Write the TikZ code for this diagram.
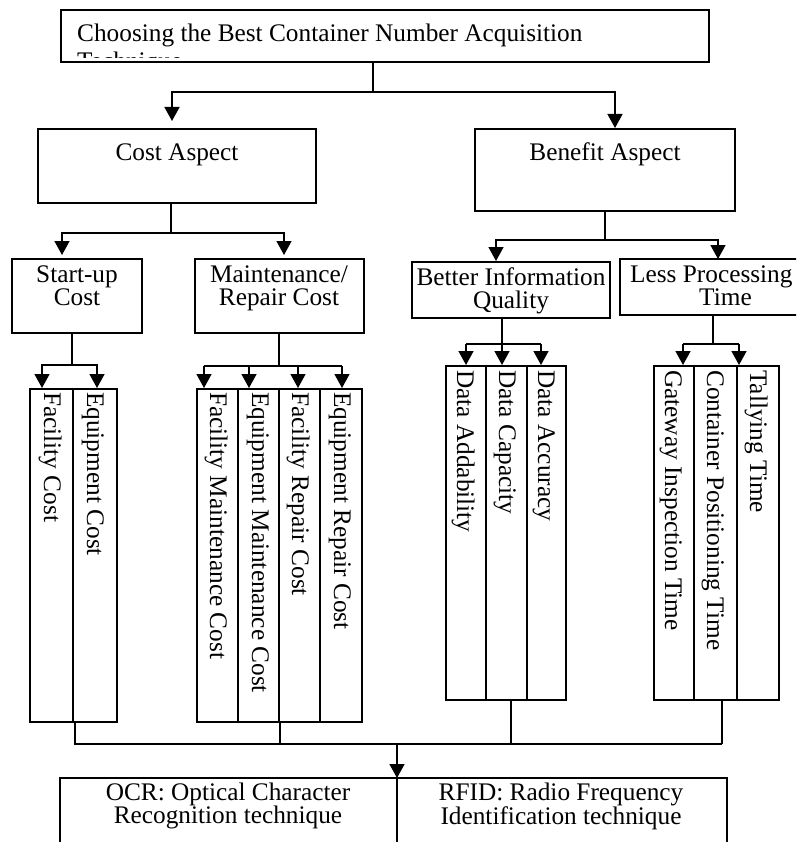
\documentclass[tikz,border=0pt]{standalone}
\usepackage{fontspec}
\setmainfont{Liberation Serif}
\usetikzlibrary{arrows.meta,calc}
\newcommand\twoline[2]{\begin{tabular}[t]{@{}c@{}}#1\\#2\end{tabular}}
\newcommand\boxat[5]{\node[box, minimum width={(#4)-(#2)}, minimum height={(#5)-(#3)}] (#1) at (#2,#3) {};}
\begin{document}
\begin{tikzpicture}[x=1pt,y=-1pt,
  box/.style={draw, line width=1.5pt, inner sep=0pt, outer sep=0pt, anchor=north west},
  txt/.style={inner sep=0pt, anchor=base, font=\fontsize{25.3}{21}\selectfont},
  vtxt/.style={inner sep=0pt, anchor=base west, rotate=-90, font=\fontsize{25.3}{21}\selectfont},
  conn/.style={line width=1.5pt},
  arr/.style={conn, -{Triangle[width=15pt,length=14pt]}}]
\useasboundingbox (0,0) rectangle (796,842);
\clip (0,0) rectangle (796,842);

% ---------- top ----------
\boxat{top}{61}{10}{709}{62}
\node[txt, anchor=base west] (title) at (77,42) {Choosing the Best Container Number Acquisition};
\begin{scope}
  \clip (62,11) rectangle (708,58);
  \node[txt, anchor=base west] (title2) at (77,70) {Technique};
\end{scope}

% ---------- level 2 ----------
\boxat{cost}{38}{129}{316}{203}
\node[txt] (costt) at (177,161) {Cost Aspect};
\boxat{ben}{475}{129}{735}{211}
\node[txt] (bent) at (605,161) {Benefit Aspect};

\coordinate (j0) at (373,92);
\coordinate (tcost) at (172,121);
\coordinate (tben) at (615,128);
\draw[conn] (top.south -| j0) -- (j0);
\draw[arr] (j0) -| (tcost);
\draw[arr] (j0) -| (tben);

% ---------- level 3 ----------
\boxat{start}{12}{259}{142}{333}
\node[txt] (startt) at (77,282) {\twoline{Start-up}{Cost}};
\boxat{maint}{195}{259}{364}{333}
\node[txt] (maintt) at (279,282) {\twoline{Maintenance/}{Repair Cost}};
\boxat{better}{412}{262}{610}{318}
\node[txt] (bettert) at (511,285) {\twoline{Better Information}{Quality}};
\boxat{less}{620}{259}{830}{315}
\node[txt, anchor=base west] (lesst) at (630,282) {\begin{tabular}[t]{@{}l@{}}Less Processing\\\hspace*{69pt}Time\end{tabular}};

\coordinate (j1) at (171,233);
\coordinate (tstart) at (62,255);
\coordinate (tmaint) at (284,255);
\draw[conn] (cost.south -| j1) -- (j1);
\draw[arr] (j1) -| (tstart);
\draw[arr] (j1) -| (tmaint);

\coordinate (j2) at (605,240);
\coordinate (tbetter) at (496,261);
\coordinate (tless) at (718,259);
\draw[conn] (ben.south -| j2) -- (j2);
\draw[arr] (j2) -| (tbetter);
\draw[arr] (j2) -| (tless);

% ---------- columns ----------
% start-up
\boxat{fc}{30}{389}{73}{722}
\boxat{ec}{73}{389}{117}{722}
\node[vtxt] at (44,392) {Facility Cost};
\node[vtxt] at (87,392) {Equipment Cost};
\coordinate (j3) at (72,365);
\coordinate (tfc) at (42,388);
\coordinate (tec) at (97,388);
\draw[conn] (start.south -| j3) -- (j3);
\draw[arr] (j3) -| (tfc);
\draw[arr] (j3) -| (tec);

% maintenance
\boxat{fmc}{197}{389}{238}{722}
\boxat{emc}{238}{389}{279}{722}
\boxat{frc}{279}{389}{320}{722}
\boxat{erc}{320}{389}{362}{722}
\node[vtxt] at (210,392) {Facility Maintenance Cost};
\node[vtxt] at (252,392) {Equipment Maintenance Cost};
\node[vtxt] at (292,392) {Facility Repair Cost};
\node[vtxt] at (334,392) {Equipment Repair Cost};
\coordinate (j4) at (279,366);
\draw[conn] (maint.south -| j4) -- (j4);
\draw[conn] (204,366) -- (342,366);
\foreach \x/\n in {204/a,249/b,298/c,342/d} {
  \coordinate (tm\n) at (\x,388);
  \draw[arr] (\x,366) -- (tm\n);
}

% better information
\boxat{dad}{446}{366}{486}{700}
\boxat{dca}{486}{366}{527}{700}
\boxat{dac}{527}{366}{566}{700}
\node[vtxt] at (457,370) {Data Addability};
\node[vtxt] at (499,370) {Data Capacity};
\node[vtxt] at (538,370) {Data Accuracy};
\coordinate (j5) at (502,344);
\draw[conn] (better.south -| j5) -- (j5);
\draw[conn] (466,344) -- (541,344);
\foreach \x/\n in {466/a,502/b,541/c} {
  \coordinate (tb\n) at (\x,365);
  \draw[arr] (\x,344) -- (tb\n);
}

% less processing
\boxat{git}{654}{366}{694}{700}
\boxat{cpt}{694}{366}{737}{700}
\boxat{tt}{737}{366}{779}{700}
\node[vtxt] at (665,370) {Gateway Inspection Time};
\node[vtxt] at (707,370) {Container Positioning Time};
\node[vtxt] at (750,370) {Tallying Time};
\coordinate (j6) at (713,344);
\draw[conn] (less.south -| j6) -- (j6);
\draw[conn] (683,344) -- (739,344);
\foreach \x/\n in {683/a,739/b} {
  \coordinate (tl\n) at (\x,365);
  \draw[arr] (\x,344) -- (tl\n);
}

% ---------- bottom ----------
\coordinate (jb) at (397,744);
\draw[conn] (ec.south west -| 75,0) -- (75,744) -- (722,744);
\draw[conn] (frc.south west -| 280,0) -- (280,744);
\draw[conn] (dca.south -| 511,0) -- (511,744);
\draw[conn] (cpt.south -| 722,0) -- (722,744);
\boxat{bot}{60}{778}{727}{870}
\draw[line width=1.5pt] (bot.north -| 397,0) -- (bot.south -| 397,0);
\draw[arr] (jb) -- (bot.north -| jb);
\node[txt] (ocr) at (228,800) {\twoline{OCR: Optical Character}{Recognition technique}};
\node[txt] (rfid) at (561,800) {\twoline{RFID: Radio Frequency}{Identification technique}};
\end{tikzpicture}
\end{document}
